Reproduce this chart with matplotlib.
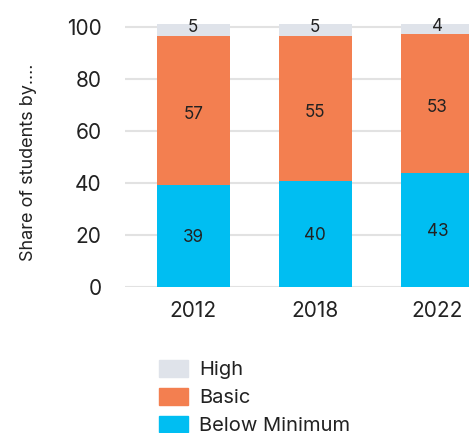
import matplotlib
matplotlib.use("Agg")
import matplotlib.pyplot as plt
from matplotlib.patches import Patch
import numpy as np

plt.rcParams['font.family'] = ['Inter', 'DejaVu Sans']

years = ["2012", "2018", "2022"]
below_minimum = [39.1, 40.6, 43.7]
basic = [57.3, 55.8, 53.5]
high = [4.6, 4.6, 3.8]
below_labels = ["39", "40", "43"]
basic_labels = ["57", "55", "53"]
high_labels = ["5", "5", "4"]
yticks = [0, 20, 40, 60, 80, 100]

c_below = "#00BEF2"
c_basic = "#F37F50"
c_high = "#DFE3EA"
txt = "#222222"

fig = plt.figure(figsize=(4.69, 4.33), dpi=100)
ax = fig.add_axes([125/469, 146.3/433, 344/469, 265.2/433])

x = np.arange(len(years))
w = 0.6
ax.bar(x, below_minimum, w, color=c_below, zorder=2)
ax.bar(x, basic, w, bottom=below_minimum, color=c_basic, zorder=2)
bot3 = np.array(below_minimum) + np.array(basic)
ax.bar(x, high, w, bottom=bot3, color=c_high, zorder=2)

for i in range(len(years)):
    ax.text(x[i], below_minimum[i] / 2, below_labels[i], ha='center', va='center_baseline',
            fontsize=12.3, color=txt, zorder=3)
    ax.text(x[i], below_minimum[i] + basic[i] / 2 - 0.6, basic_labels[i], ha='center',
            va='center_baseline', fontsize=12.3, color=txt, zorder=3)
    ax.text(x[i], bot3[i] + high[i] / 2 + 1.9, high_labels[i], ha='center',
            va='center_baseline', fontsize=12.3, color=txt, zorder=3)

ax.set_xlim(-0.56, 2.26)
ax.set_ylim(0, 102)
ax.set_yticks(yticks)
ax.set_xticks(x)
ax.set_xticklabels(years)
ax.tick_params(axis='both', length=0, labelsize=15, colors=txt)
ax.tick_params(axis='y', pad=17)
ax.tick_params(axis='x', pad=10)
ax.yaxis.grid(True, color="#E2E2E2", linewidth=1.5, zorder=0)
ax.set_axisbelow(True)
for s in ax.spines.values():
    s.set_visible(False)
ax.set_ylabel("Share of students by....", fontsize=13, color=txt)
ax.yaxis.set_label_coords(-0.255, 0.47)

handles = [Patch(color=c_high, label="High"),
           Patch(color=c_basic, label="Basic"),
           Patch(color=c_below, label="Below Minimum")]
fig.legend(handles=handles, loc='upper left', bbox_to_anchor=(151/469, 1 - 352/433),
           frameon=False, fontsize=14.5, handlelength=1.45, handleheight=0.9,
           handletextpad=0.55, labelspacing=0.42, borderaxespad=0, labelcolor=txt)

fig.savefig("out.png", dpi=100)
